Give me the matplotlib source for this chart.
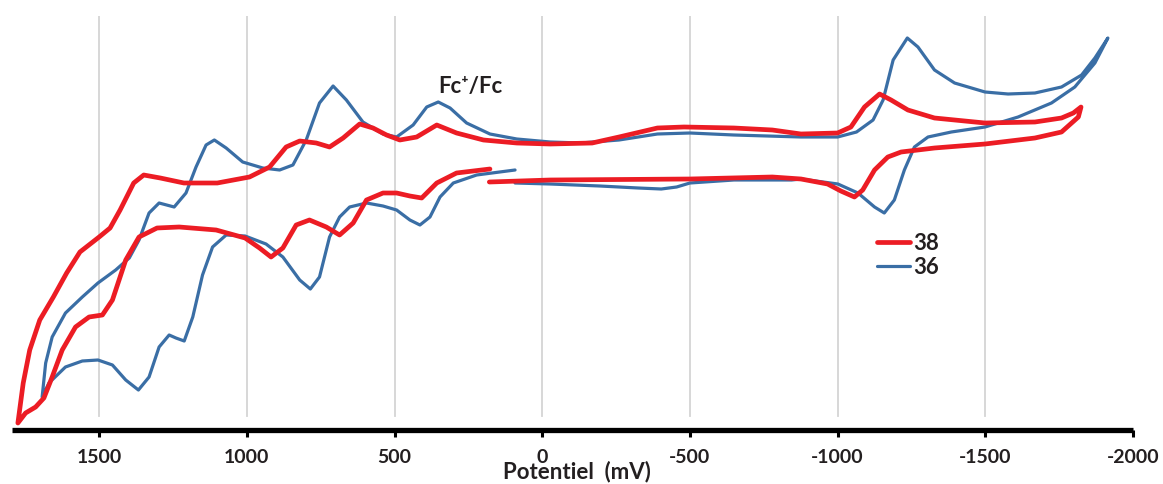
import matplotlib
matplotlib.use("Agg")
import matplotlib.pyplot as plt

# ---- data: potential (mV) and current (arbitrary units) ----
red_E = [179, -27, -500, -779, -876, -966, -1011, -1057, -1085, -1125, -1170, -1215, -1328, -1499, -1668, -1758,
         -1815, -1824,
         -1798, -1758, -1668, -1499, -1328, -1238, -1181, -1142, -1091, -1045, -1000, -876, -779, -649, -480, -390,
         -260, -169, -27, 86, 199, 290, 357, 425, 482, 527, 573, 618, 674, 720, 765, 821, 867, 923, 991, 1100, 1213,
         1293, 1349, 1383, 1429, 1463, 1500, 1565, 1610, 1655, 1701, 1735, 1757, 1775,
         1749, 1715, 1687, 1659, 1625, 1580, 1534, 1489, 1455, 1410, 1365, 1304, 1229, 1104, 1006, 957, 918, 878,
         833, 788, 731, 686, 640, 595, 539, 493, 448, 408, 357, 290, 177]
red_I = [248, 250, 251, 253, 251, 246, 239, 233, 240, 260, 273, 278, 282, 286, 292, 298,
         313, 323,
         317, 312, 308, 307, 312, 320, 330, 336, 323, 303, 297, 296, 300, 302, 303, 302,
         293, 287, 286, 287, 290, 297, 305, 293, 290, 295, 302, 306, 292, 283, 287, 289, 283, 263, 253, 247, 247,
         252, 255, 247, 220, 202, 193, 178, 157, 133, 110, 80, 47, 7,
         17, 23, 32, 53, 80, 103, 113, 115, 130, 170, 193, 202, 203, 200, 192, 182, 173, 182,
         205, 210, 203, 195, 207, 230, 237, 237, 234, 232, 247, 257, 261]

blue_E = [92, -27, -195, -325, -403, -455, -500, -649, -844, -876, -1001, -1069, -1125, -1158, -1192, -1226, -1260,
          -1306, -1385, -1499, -1611, -1724, -1803, -1871, -1915,
          -1871, -1826, -1758, -1668, -1577, -1499, -1396, -1328, -1272, -1236, -1188, -1154, -1120, -1064, -1000,
          -876, -649, -500, -390, -260, -130, -27, 86, 177, 256, 312, 352, 391, 437, 493, 539, 607, 663, 708, 754,
          799, 844, 889, 946, 1014, 1070, 1110, 1138, 1172, 1206, 1246, 1297, 1331, 1365, 1398, 1444, 1504, 1557,
          1614, 1659, 1681, 1693,
          1670, 1614, 1557, 1504, 1455, 1410, 1367, 1331, 1297, 1263, 1240, 1212, 1183, 1150, 1116, 1070, 1006, 935,
          878, 821, 785, 754, 720, 686, 652, 595, 539, 493, 448, 414, 380, 346, 301, 222, 92]
blue_I = [247, 246, 244, 242, 241, 243, 247, 250, 250, 251, 246, 237, 223, 217, 230, 260, 283,
          293, 298, 303, 313, 327, 343, 367, 392,
          372, 355, 343, 337, 336, 338, 347, 360, 383, 392, 370, 330, 310, 298, 293,
          293, 295, 297, 296, 290, 287, 288, 291, 296, 307, 322, 328, 323, 305, 293, 296, 308, 330, 344, 327,
          290, 265, 260, 262, 268, 282, 290, 285, 263, 237, 223, 227, 217, 190, 172, 160, 147, 133,
          117, 93, 67, 33,
          47, 63, 69, 70, 65, 50, 40, 53, 83, 95, 92, 89, 113, 155, 183, 195, 194, 186,
          173, 150, 141, 153, 193, 213, 223, 227, 224, 220, 210, 205, 213, 233, 247, 255, 260]

x_ticks = [1500, 1000, 500, 0, -500, -1000, -1500, -2000]
series_labels = ["38", "36"]

RED = "#EC1C24"
BLUE = "#3A6EA5"
TXT = "#231F20"

fig = plt.figure(figsize=(11.63, 4.84), dpi=100)
ax = fig.add_axes([12 / 1163, 54 / 484, 1121 / 1163, 414 / 484])

for xv in x_ticks[:-1]:
    ax.axvline(xv, ymin=14 / 414, ymax=1, color="#D4D4D4", lw=1.3, zorder=0)

ax.plot(red_E, red_I, color=RED, lw=3.4, solid_joinstyle="round", solid_capstyle="round",
        label=series_labels[0], clip_on=False, zorder=3)
ax.plot(blue_E, blue_I, color=BLUE, lw=2.3, solid_joinstyle="round", solid_capstyle="round",
        label=series_labels[1], clip_on=False, zorder=2)

ax.set_xlim(1795, -2000)
ax.set_ylim(0, 414)
ax.set_xticks(x_ticks)
ax.set_xticklabels([str(v) for v in x_ticks], fontfamily="Lato", fontweight="bold", fontsize=14, color=TXT)
ax.tick_params(axis="x", direction="out", length=5, width=2.2, pad=9, color="black")
ax.set_yticks([])
for s in ["top", "left", "right"]:
    ax.spines[s].set_visible(False)
ax.spines["bottom"].set_linewidth(3.8)
ax.spines["bottom"].set_color("black")
ax.spines["bottom"].set_capstyle("butt")

fig.text(577 / 1163, 2 / 484, "Potentiel  (mV)", ha="center", va="bottom",
         fontfamily="Lato", fontweight="bold", fontsize=16, color=TXT)

fig.text(470 / 1163, 1 - 87 / 484, "Fc\u207a/Fc", ha="center", va="center",
         fontfamily=["Lato", "DejaVu Sans"], fontweight="bold", fontsize=16, color=TXT)

leg = ax.legend(loc="upper left", bbox_to_anchor=((877 - 12) / 1121, (430 - 233) / 414),
                frameon=False, handlelength=1.5, handletextpad=0.12, labelspacing=0.12,
                borderpad=0, borderaxespad=0,
                prop={"family": "Lato", "weight": "bold", "size": 16})
for t in leg.get_texts():
    t.set_color(TXT)

fig.savefig("out.png", dpi=100)
